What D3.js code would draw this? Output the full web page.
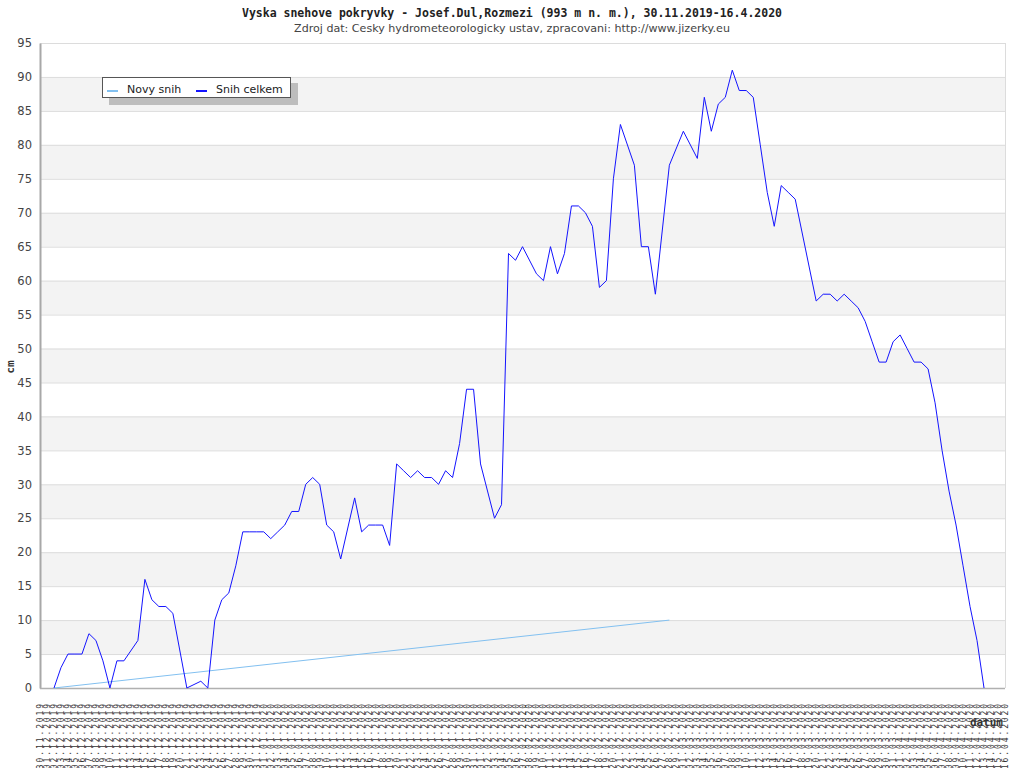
<!DOCTYPE html>
<html>
<head>
<meta charset="utf-8">
<script src="https://cdn.jsdelivr.net/npm/d3@7"></script>
<style>
    body { margin: 0; background: #ffffff; }
    svg { display: block; }
</style>
</head>
<body>
<div id="snih"></div>
<script>
// days 30.11.2019 .. 16.04.2020, one category per day
const startDay = new Date(2019, 10, 30);
const endDay = new Date(2020, 3, 17);
const dayLabels = d3.timeDay.range(startDay, endDay).map(d3.timeFormat("%d.%m.%Y"));

// Novy snih - only two readings in the source
const novySnih = [
    null, null, 0, null, null, null, null, null, null, null,
    null, null, null, null, null, null, null, null, null, null,
    null, null, null, null, null, null, null, null, null, null,
    null, null, null, null, null, null, null, null, null, null,
    null, null, null, null, null, null, null, null, null, null,
    null, null, null, null, null, null, null, null, null, null,
    null, null, null, null, null, null, null, null, null, null,
    null, null, null, null, null, null, null, null, null, null,
    null, null, null, null, null, null, null, null, null, null,
    10, null, null, null, null, null, null, null, null, null,
    null, null, null, null, null, null, null, null, null, null,
    null, null, null, null, null, null, null, null, null, null,
    null, null, null, null, null, null, null, null, null, null,
    null, null, null, null, null, null, null, null, null
];

// Snih celkem (cm), null = no reading that day
const snihCelkem = [
    null, null, 0, 3, 5, 5, 5, 8, 7, 4,
    0, 4, 4, null, 7, 16, 13, 12, 12, 11,
    null, 0, null, 1, 0, 10, 13, 14, 18, 23,
    23, 23, 23, 22, 23, 24, 26, 26, 30, 31,
    30, 24, 23, 19, null, 28, 23, 24, 24, 24,
    21, 33, 32, 31, 32, 31, 31, 30, 32, 31,
    36, 44, 44, 33, null, 25, 27, 64, 63, 65,
    null, 61, 60, 65, 61, 64, 71, 71, 70, 68,
    59, 60, 75, 83, null, 77, 65, 65, 58, null,
    77, null, 82, null, 78, 87, 82, 86, 87, 91,
    88, 88, 87, 80, 73, 68, 74, 73, 72, null,
    null, 57, 58, 58, 57, 58, 57, 56, 54, 51,
    48, 48, 51, 52, 50, 48, 48, 47, 42, 35,
    29, 24, 18, 12, 7, 0, null, null, null
];

const yTicks = d3.range(0, 96, 5);

const titleText = "Vyska snehove pokryvky - Josef.Dul,Rozmezi (993 m n. m.), 30.11.2019-16.4.2020";
const subtitleText = "Zdroj dat: Cesky hydrometeorologicky ustav, zpracovani: http://www.jizerky.eu";

function snihPlot(e) {
    let width = 1024, height = 768;
    let margin = { left: 40, top: 43, right: 19, bottom: 80 };
    let mono = "'DejaVu Sans Mono', monospace";
    let sans = "'DejaVu Sans', Verdana, sans-serif";

    let svg = d3.select("#" + e)
	.append("svg")
	.attr("width", width)
	.attr("height", height);

    let x = d3.scalePoint()
	.domain(dayLabels)
	.range([margin.left, width - margin.right]);

    let y = d3.scaleLinear()
	.domain([0, 95])
	.range([height - margin.bottom, margin.top]);

    // striped background
    svg.append("g")
	.selectAll("rect")
	.data(yTicks.slice(0, -1).filter((t, i) => i % 2 == 1))
	.join("rect")
	.attr("x", margin.left)
	.attr("width", x.range()[1] - margin.left)
	.attr("y", d => y(d + 5))
	.attr("height", d => y(d) - y(d + 5))
	.attr("fill", "#f3f3f3");

    // y-axis gridlines
    svg.append("g")
	.attr("transform", "translate(" + margin.left + ",0)")
	.call(d3.axisLeft(y)
	      .tickValues(yTicks)
	      .tickSize(-(x.range()[1] - margin.left))
	      .tickFormat(""))
	.call(g => g.select(".domain").remove())
	.call(g => g.selectAll("line").attr("stroke", "#dcdcdc"));

    // right border
    svg.append("line")
	.attr("x1", x.range()[1] + 0.5).attr("x2", x.range()[1] + 0.5)
	.attr("y1", y(95)).attr("y2", y(0))
	.attr("stroke", "#dcdcdc");

    // y-axis
    svg.append("g")
	.attr("transform", "translate(" + margin.left + ",0)")
	.call(d3.axisLeft(y).tickValues(yTicks).tickSize(0).tickPadding(8))
	.call(g => g.select(".domain").attr("stroke", "#a8a8a8").attr("stroke-width", 2))
	.call(g => g.selectAll("text")
	      .attr("font-family", sans)
	      .attr("font-size", "11.5px")
	      .attr("fill", "#444"));

    // x-axis line
    svg.append("line")
	.attr("x1", margin.left).attr("x2", x.range()[1])
	.attr("y1", y(0) + 0.5).attr("y2", y(0) + 0.5)
	.attr("stroke", "#b0b0b0")
	.attr("stroke-width", 1.5);

    // x-axis labels, one per day
    svg.append("g")
	.selectAll("text")
	.data(dayLabels)
	.join("text")
	.attr("transform", d => "translate(" + (x(d) + 3) + "," + (y(0) + 14) + ") rotate(-90)")
	.attr("text-anchor", "end")
	.attr("font-family", mono)
	.attr("font-size", "8px")
	.attr("letter-spacing", "1.9px")
	.attr("fill", "#333")
	.text(d => d);

    // novy snih
    let novyPts = dayLabels.map((d, i) => [d, novySnih[i]]).filter(p => p[1] != null);
    svg.append("path")
	.datum(novyPts)
	.attr("fill", "none")
	.attr("stroke", "#82c0f0")
	.attr("stroke-width", 1)
	.attr("d", d3.line()
	      .x(function(d) { return x(d[0]) })
	      .y(function(d) { return y(d[1]) }));

    // snih celkem
    let celkemPts = dayLabels.map((d, i) => [d, snihCelkem[i]]).filter(p => p[1] != null);
    svg.append("path")
	.datum(celkemPts)
	.attr("fill", "none")
	.attr("stroke", "#1414ff")
	.attr("stroke-width", 1)
	.attr("d", d3.line()
	      .x(function(d) { return x(d[0]) })
	      .y(function(d) { return y(d[1]) }));

    // titles
    svg.append("text")
	.attr("x", 512).attr("y", 17)
	.attr("text-anchor", "middle")
	.attr("font-family", mono)
	.attr("font-weight", "bold")
	.attr("font-size", "11.5px")
	.attr("fill", "#222")
	.text(titleText);

    svg.append("text")
	.attr("x", 512).attr("y", 32)
	.attr("text-anchor", "middle")
	.attr("font-family", sans)
	.attr("font-size", "11.1px")
	.attr("fill", "#444")
	.text(subtitleText);

    // axis titles
    svg.append("text")
	.attr("transform", "translate(14,367) rotate(-90)")
	.attr("text-anchor", "middle")
	.attr("font-family", mono)
	.attr("font-weight", "bold")
	.attr("font-size", "11px")
	.attr("fill", "#333")
	.text("cm");

    svg.append("text")
	.attr("x", 1003).attr("y", 726)
	.attr("text-anchor", "end")
	.attr("font-family", mono)
	.attr("font-weight", "bold")
	.attr("font-size", "11px")
	.attr("fill", "#333")
	.text("datum");

    // legend
    let legend = svg.append("g").attr("transform", "translate(102,77)");
    legend.append("rect")
	.attr("x", 7).attr("y", 6).attr("width", 189).attr("height", 22)
	.attr("fill", "#bdbdbd");
    legend.append("rect")
	.attr("x", 0.5).attr("y", 0.5).attr("width", 188).attr("height", 20)
	.attr("fill", "#ffffff")
	.attr("stroke", "#555");
    let items = [
	{ name: "Novy snih", color: "#82c0f0", x: 5 },
	{ name: "Snih celkem", color: "#1414ff", x: 94 }
    ];
    items.forEach(function(it) {
	legend.append("line")
	    .attr("x1", it.x).attr("x2", it.x + 11)
	    .attr("y1", 14).attr("y2", 14)
	    .attr("stroke", it.color)
	    .attr("stroke-width", 2);
	legend.append("text")
	    .attr("x", it.x + 20).attr("y", 16)
	    .attr("font-family", sans)
	    .attr("font-size", "11px")
	    .attr("fill", "#222")
	    .text(it.name);
    });
}

snihPlot("snih");
</script>
</body>
</html>
